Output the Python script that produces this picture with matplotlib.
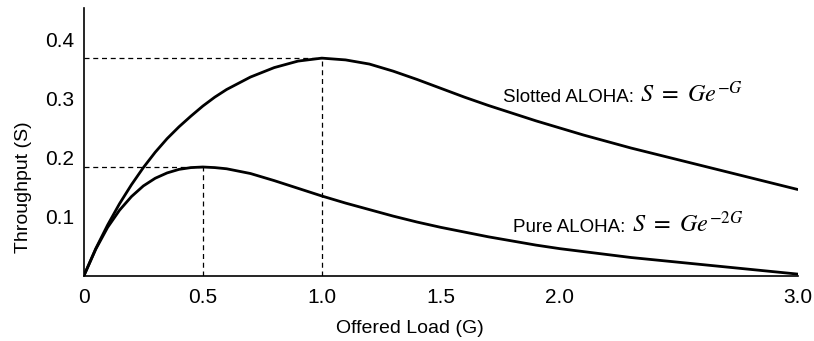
import numpy as np
import matplotlib
matplotlib.use("Agg")
import matplotlib.pyplot as plt

plt.rcParams['font.family'] = ['Liberation Sans', 'DejaVu Sans']
plt.rcParams['mathtext.fontset'] = 'stix'

# offered load G and throughput
G = [0, 0.05, 0.1, 0.15, 0.2, 0.25, 0.3, 0.35, 0.4, 0.45, 0.5, 0.55, 0.6,
     0.7, 0.8, 0.9, 1.0, 1.1, 1.2, 1.3, 1.4, 1.5, 1.6, 1.7, 1.8, 1.9, 2.0,
     2.1, 2.2, 2.3, 2.4, 2.5, 2.6, 2.7, 2.8, 2.9, 3.0]
slotted = [0, 0.046, 0.086, 0.122, 0.154, 0.183, 0.209, 0.232, 0.252, 0.270, 0.287, 0.302, 0.315,
           0.336, 0.352, 0.363, 0.368, 0.365, 0.358, 0.346, 0.332, 0.317, 0.302, 0.288, 0.275, 0.262, 0.250,
           0.238, 0.227, 0.216, 0.206, 0.196, 0.186, 0.176, 0.166, 0.156, 0.146]
pure = [0, 0.045, 0.082, 0.111, 0.134, 0.152, 0.165, 0.174, 0.180, 0.183, 0.184, 0.183, 0.181,
        0.173, 0.161, 0.148, 0.135, 0.123, 0.112, 0.101, 0.091, 0.082, 0.074, 0.066, 0.059, 0.052, 0.046,
        0.041, 0.036, 0.031, 0.027, 0.023, 0.019, 0.015, 0.011, 0.007, 0.003]

peak_g = [1.0, 0.5]
peak_s = [0.368, 0.184]

xticks = [0, 0.5, 1.0, 1.5, 2.0, 3.0]
xticklabels = ["0", "0.5", "1.0", "1.5", "2.0", "3.0"]
yticks = [0.1, 0.2, 0.3, 0.4]
yticklabels = ["0.1", "0.2", "0.3", "0.4"]

fig = plt.figure(figsize=(8.14, 3.41), dpi=100)
ax = fig.add_axes([0.103, 0.191, 0.877, 0.786])

ax.plot(G, slotted, color='black', lw=2.0, solid_capstyle='round', solid_joinstyle='round')
ax.plot(G, pure, color='black', lw=2.0, solid_capstyle='round', solid_joinstyle='round')

# dashed guides to the maxima
for g, s in zip(peak_g, peak_s):
    ax.plot([0, g], [s, s], color='black', lw=0.9, ls=(0, (4, 3)))
    ax.plot([g, g], [0, s], color='black', lw=0.9, ls=(0, (4, 3)))

# curve labels: sans text + serif formula
ax.text(1.761, 0.294, "Slotted ALOHA:", fontsize=13.5, va='baseline')
ax.text(2.338, 0.294, r"$S\ =\ Ge^{-G}$", fontsize=17.5, va='baseline')
ax.text(1.803, 0.0743, "Pure ALOHA:", fontsize=13.5, va='baseline')
ax.text(2.305, 0.0743, r"$S\ =\ Ge^{-2G}$", fontsize=17.5, va='baseline')

ax.set_xlim(0, 3.0)
ax.set_ylim(0, 0.453)
ax.set_xticks(xticks)
ax.set_xticklabels(xticklabels)
ax.set_yticks(yticks)
ax.set_yticklabels(yticklabels)
ax.tick_params(length=0, labelsize=15)
ax.tick_params(axis='x', pad=9)
ax.tick_params(axis='y', pad=7)

for side in ['top', 'right']:
    ax.spines[side].set_visible(False)
ax.spines['left'].set_linewidth(1.2)
ax.spines['bottom'].set_linewidth(1.2)

ax.set_xlabel("Offered Load (G)", fontsize=14)
ax.set_ylabel("Throughput (S)", fontsize=14)
ax.xaxis.set_label_coords(0.457, -0.164)
ax.yaxis.set_label_coords(-0.072, 0.332)

fig.savefig("out.png", dpi=100)
